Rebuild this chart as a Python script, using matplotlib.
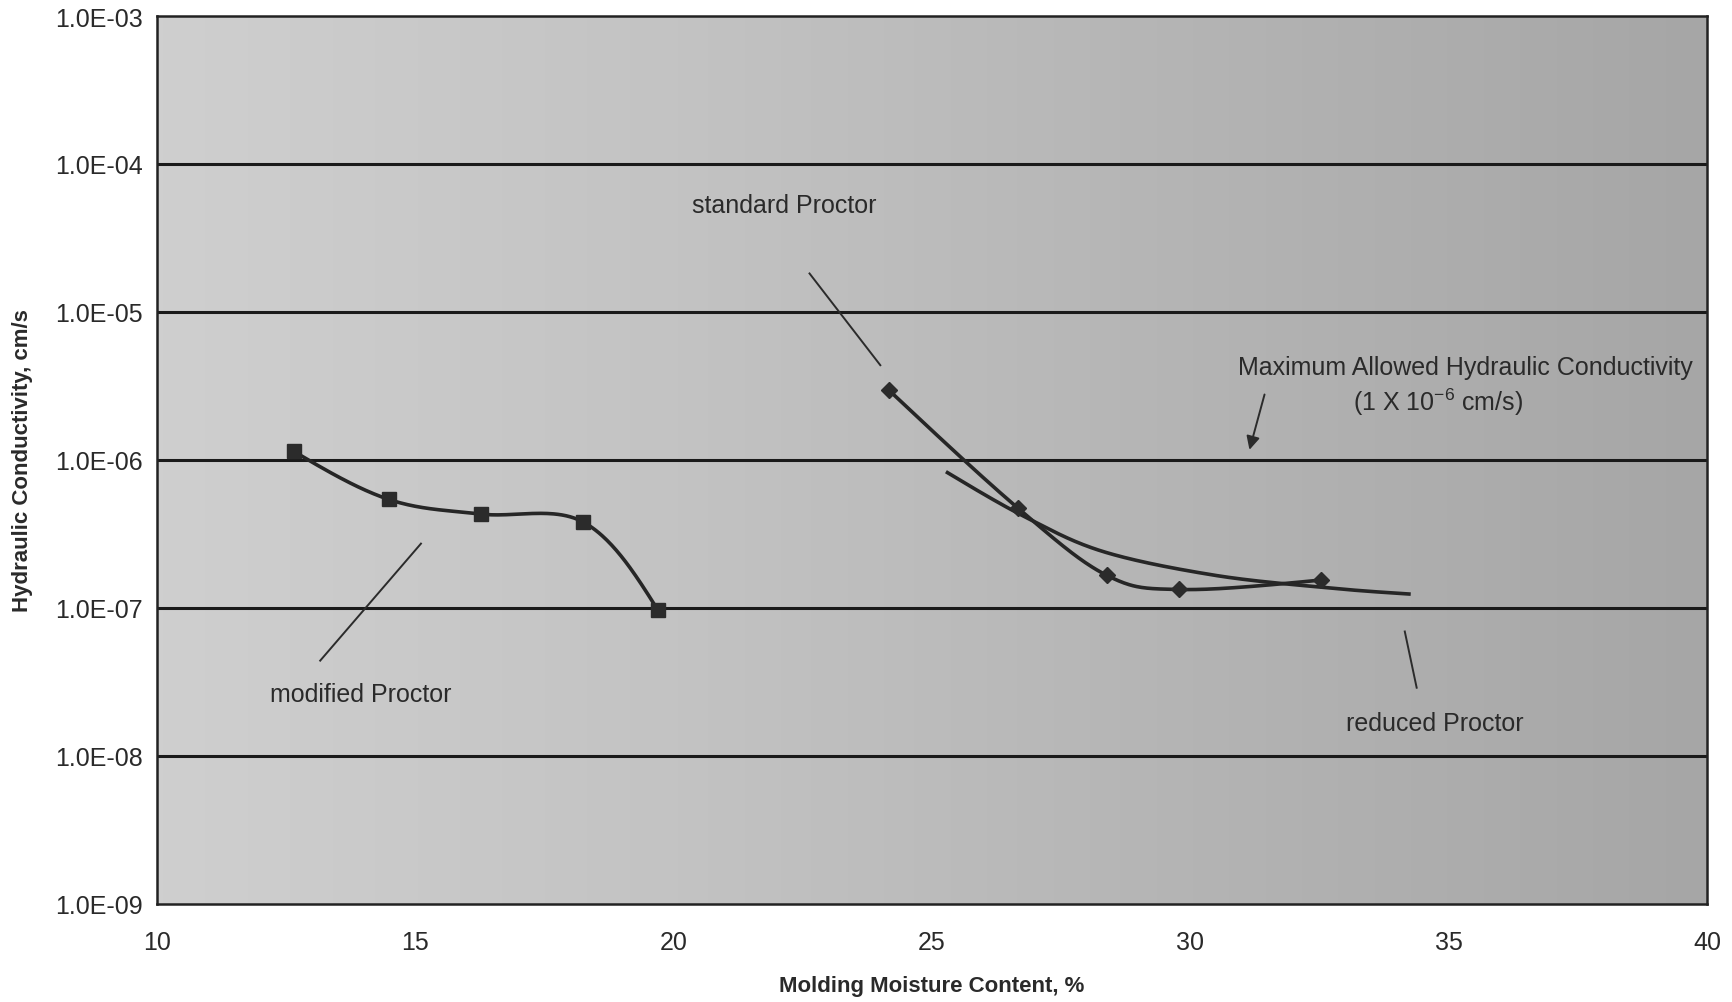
import numpy as np
import matplotlib.pyplot as plt
from matplotlib.colors import LinearSegmentedColormap

plt.rcParams['font.family'] = ['Liberation Sans', 'DejaVu Sans']

# compaction test results
mod_w = [12.65, 14.49, 16.28, 18.25, 19.70]
mod_k = [1.14e-6, 5.4e-7, 4.3e-7, 3.8e-7, 9.6e-8]

std_w = [24.17, 26.67, 28.38, 29.79, 32.52]
std_k = [2.95e-6, 4.7e-7, 1.66e-7, 1.33e-7, 1.54e-7]

# reduced Proctor trend (no markers shown)
red_w = [25.30, 26.84, 28.33, 30.47, 32.61, 34.23]
red_k = [8.2e-7, 4.05e-7, 2.39e-7, 1.66e-7, 1.37e-7, 1.24e-7]

x_ticks = [10, 15, 20, 25, 30, 35, 40]
y_ticks = [1e-9, 1e-8, 1e-7, 1e-6, 1e-5, 1e-4, 1e-3]
y_labels = ["1.0E-09", "1.0E-08", "1.0E-07", "1.0E-06", "1.0E-05", "1.0E-04", "1.0E-03"]


def smooth(xs, ys, n=50):
    # cubic hermite through the points in (x, log y); natural end tangents
    p = np.column_stack([np.asarray(xs, float), np.log10(np.asarray(ys, float))])
    m = np.zeros_like(p)
    m[1:-1] = (p[2:] - p[:-2]) / 2
    m[0] = 1.5 * (p[1] - p[0]) - 0.5 * m[1]
    m[-1] = 1.5 * (p[-1] - p[-2]) - 0.5 * m[-2]
    t = np.linspace(0, 1, n)[:, None]
    h00 = 2 * t**3 - 3 * t**2 + 1
    h10 = t**3 - 2 * t**2 + t
    h01 = -2 * t**3 + 3 * t**2
    h11 = t**3 - t**2
    pts = [h00 * p[i] + h10 * m[i] + h01 * p[i + 1] + h11 * m[i + 1] for i in range(len(p) - 1)]
    pts = np.vstack(pts)
    return pts[:, 0], 10 ** pts[:, 1]


fig = plt.figure(figsize=(17.32, 10.03), dpi=100)
ax = fig.add_axes([0.0906, 0.098, 0.895, 0.885])

ax.set_xlim(10, 40)
ax.set_yscale("log")
ax.set_ylim(1e-9, 1e-3)

# shaded plot area, a bit darker toward the right
grad = np.linspace(0, 1, 256).reshape(1, -1)
bg = LinearSegmentedColormap.from_list("bg", ["#cfcfcf", "#c3c3c3", "#b4b4b4", "#a6a6a6"])
ax.imshow(grad, extent=[0, 1, 0, 1], transform=ax.transAxes, aspect="auto", cmap=bg, zorder=0)

for yv in y_ticks[1:-1]:
    ax.axhline(yv, color="#1a1a1a", lw=2.2, zorder=1)

for s in ax.spines.values():
    s.set_color("#222222")
    s.set_linewidth(1.8)

line_kw = dict(color="#262626", lw=2.6, zorder=3)

sx, sy = smooth(mod_w, mod_k)
ax.plot(sx, sy, **line_kw)
ax.plot(mod_w, mod_k, ls="none", marker="s", ms=10, color="#2b2b2b", zorder=4)

sx, sy = smooth(std_w, std_k)
ax.plot(sx, sy, **line_kw)
ax.plot(std_w, std_k, ls="none", marker="D", ms=8, color="#2b2b2b", zorder=4)

sx, sy = smooth(red_w, red_k)
ax.plot(sx, sy, **line_kw)

ax.set_xticks(x_ticks)
ax.set_yticks(y_ticks)
ax.set_yticklabels(y_labels)
ax.minorticks_off()
ax.tick_params(axis="both", length=0, labelsize=18, colors="#2a2a2a")
ax.tick_params(axis="x", pad=19)
ax.tick_params(axis="y", pad=10)

ax.set_xlabel("Molding Moisture Content, %", fontsize=16, fontweight="bold", color="#2a2a2a", labelpad=15)
ax.set_ylabel("Hydraulic Conductivity, cm/s", fontsize=16, fontweight="bold", color="#2a2a2a", labelpad=16)

txt_kw = dict(fontsize=18, color="#2a2a2a", ha="center", va="center", zorder=5)
ax.text(22.14, 10 ** -4.275, "standard Proctor", **txt_kw)
ax.plot([22.63, 24.0], [10 ** -4.74, 10 ** -5.36], color="#2b2b2b", lw=1.4, zorder=3)

ax.text(13.95, 10 ** -7.584, "modified Proctor", **txt_kw)
ax.plot([13.16, 15.11], [10 ** -7.357, 10 ** -6.566], color="#2b2b2b", lw=1.4, zorder=3)

ax.text(34.74, 10 ** -7.776, "reduced Proctor", **txt_kw)
ax.plot([34.15, 34.38], [10 ** -7.16, 10 ** -7.54], color="#2b2b2b", lw=1.4, zorder=3)

ax.text(35.32, 10 ** -5.375, "Maximum Allowed Hydraulic Conductivity", **txt_kw)
ax.text(34.79, 10 ** -5.604, r"(1 X 10$^{\mathregular{-6}}$ cm/s)", **txt_kw)
ax.annotate("", xy=(31.13, 10 ** -5.95), xytext=(31.45, 10 ** -5.54),
            arrowprops=dict(arrowstyle="-|>", color="#2b2b2b", lw=1.4, mutation_scale=20), zorder=5)

fig.savefig("out.png", dpi=100, facecolor="white")
